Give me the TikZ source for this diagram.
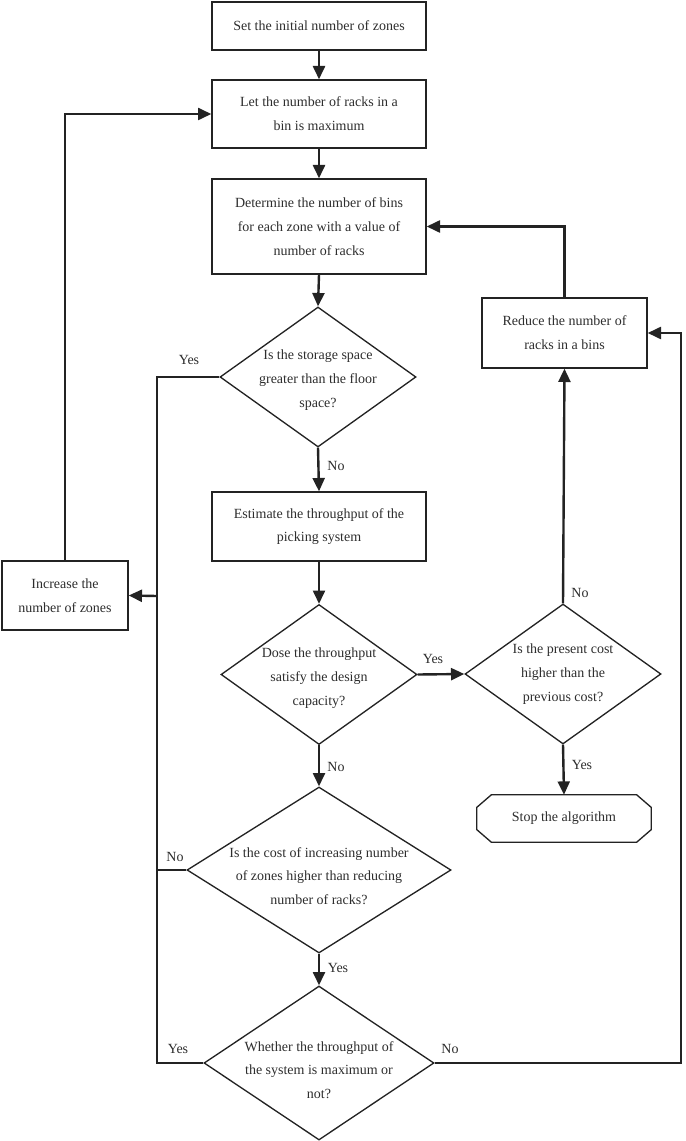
\documentclass[tikz,border=0pt]{standalone}
\usepackage{fontspec}
\setmainfont{Liberation Serif}
\usetikzlibrary{shapes.geometric,arrows.meta}
\definecolor{ink}{RGB}{35,35,35}
\definecolor{txt}{RGB}{45,45,45}
\tikzset{
  every node/.style={text=txt,font=\fontsize{10.5}{17.8}\selectfont,align=center},
  procbox/.style={draw=ink,line width=1pt,rectangle,inner sep=2pt},
  decision/.style={draw=ink,line width=1pt,diamond,inner sep=0pt},
  conn/.style={draw=ink,line width=1.8pt},
  arr/.style={conn,-{Triangle[length=10pt,width=9pt]}},
  lbl/.style={inner sep=0pt}
}
\begin{document}
\begin{tikzpicture}[x=0.75pt,y=-0.75pt]
\useasboundingbox (0,0) rectangle (685,1141);
% process boxes
\node[procbox,minimum width=160.5pt,minimum height=36pt] (b1) at (319,26) {Set the initial number of zones};
\node[procbox,minimum width=160.5pt,minimum height=51pt] (b2) at (319,114) {Let the number of racks in a\\bin is maximum};
\node[procbox,minimum width=160.5pt,minimum height=71.25pt] (b3) at (319,226.5) {Determine the number of bins\\for each zone with a value of\\number of racks};
\node[procbox,minimum width=160.5pt,minimum height=51.75pt] (est) at (319,526.5) {Estimate the throughput of the\\picking system};
\node[procbox,minimum width=94.5pt,minimum height=51.75pt] (inc) at (65,595.5) {Increase the\\number of zones};
\node[procbox,minimum width=123.75pt,minimum height=52.5pt] (red) at (564.5,333) {Reduce the number of\\racks in a bins};
% stop terminal
\node[minimum width=130.5pt,minimum height=35.25pt,inner sep=0pt] (stop) at (564,818.5) {Stop the algorithm};
\draw[draw=ink,line width=1pt] ([xshift=11pt]stop.north west) -- ([xshift=-11pt]stop.north east) -- ([yshift=-9.5pt]stop.north east) -- ([yshift=9.5pt]stop.south east) -- ([xshift=-11pt]stop.south east) -- ([xshift=11pt]stop.south west) -- ([yshift=9.5pt]stop.south west) -- ([yshift=-9.5pt]stop.north west) -- cycle;
% decisions
\node[decision,minimum width=147pt,minimum height=105pt] (d1) at (318,377) {};
\node (d1t) at (318,380) {Is the storage space\\greater than the floor\\space?};
\node[decision,minimum width=147pt,minimum height=105pt] (d2) at (319,674.5) {};
\node (d2t) at (319,678) {Dose the throughput\\satisfy the design\\capacity?};
\node[decision,minimum width=147pt,minimum height=105pt] (d3) at (563,674) {};
\node (d3t) at (563,674) {Is the present cost\\higher than the\\previous cost?};
\node[decision,minimum width=198pt,minimum height=124.5pt] (d4) at (319,870) {};
\node (d4t) at (319,876) {Is the cost of increasing number\\of zones higher than reducing\\number of racks?};
\node[decision,minimum width=172.5pt,minimum height=115.5pt] (d5) at (319,1063) {};
\node (d5t) at (319,1070) {Whether the throughput of\\the system is maximum or\\not?};
% junction coordinates
\coordinate (jL) at (157,596);
\coordinate (jR) at (681,333);
% connectors
\draw[arr] (b1.south) -- (b2.north);
\draw[arr] (b2.south) -- (b3.north);
\draw[arr] (b3.south) -- (d1.north);
\draw[arr] (d1.south) -- (est.north);
\draw[arr] (est.south) -- (d2.north);
\draw[arr] (d2.east) -- (d3.west);
\draw[arr] (d2.south) -- (d4.north);
\draw[arr] (d4.south) -- (d5.north);
\draw[arr] (d3.north) -- (red.south);
\draw[arr] (d3.south) -- (stop.north);
\draw[arr] (red.north) |- (b3.east);
\draw[arr] (inc.north) |- (b2.west);
\draw[conn] (d1.west) -| (jL);
\draw[conn] (d5.west) -| (jL);
\draw[conn] (d4.west) -- (d4.west -| jL);
\draw[arr] (jL) -- (inc.east);
\draw[arr] (d5.east) -| (jR) -- (red.east);
% labels
\node[lbl] (l1) at (189,360) {Yes};
\node[lbl] (l2) at (336,466) {No};
\node[lbl] (l3) at (433,659) {Yes};
\node[lbl] (l4) at (336,767) {No};
\node[lbl] (l5) at (580,593) {No};
\node[lbl] (l6) at (582,765) {Yes};
\node[lbl] (l7) at (175,857) {No};
\node[lbl] (l8) at (338,968) {Yes};
\node[lbl] (l9) at (178,1049) {Yes};
\node[lbl] (l10) at (450,1049) {No};
\end{tikzpicture}
\end{document}
